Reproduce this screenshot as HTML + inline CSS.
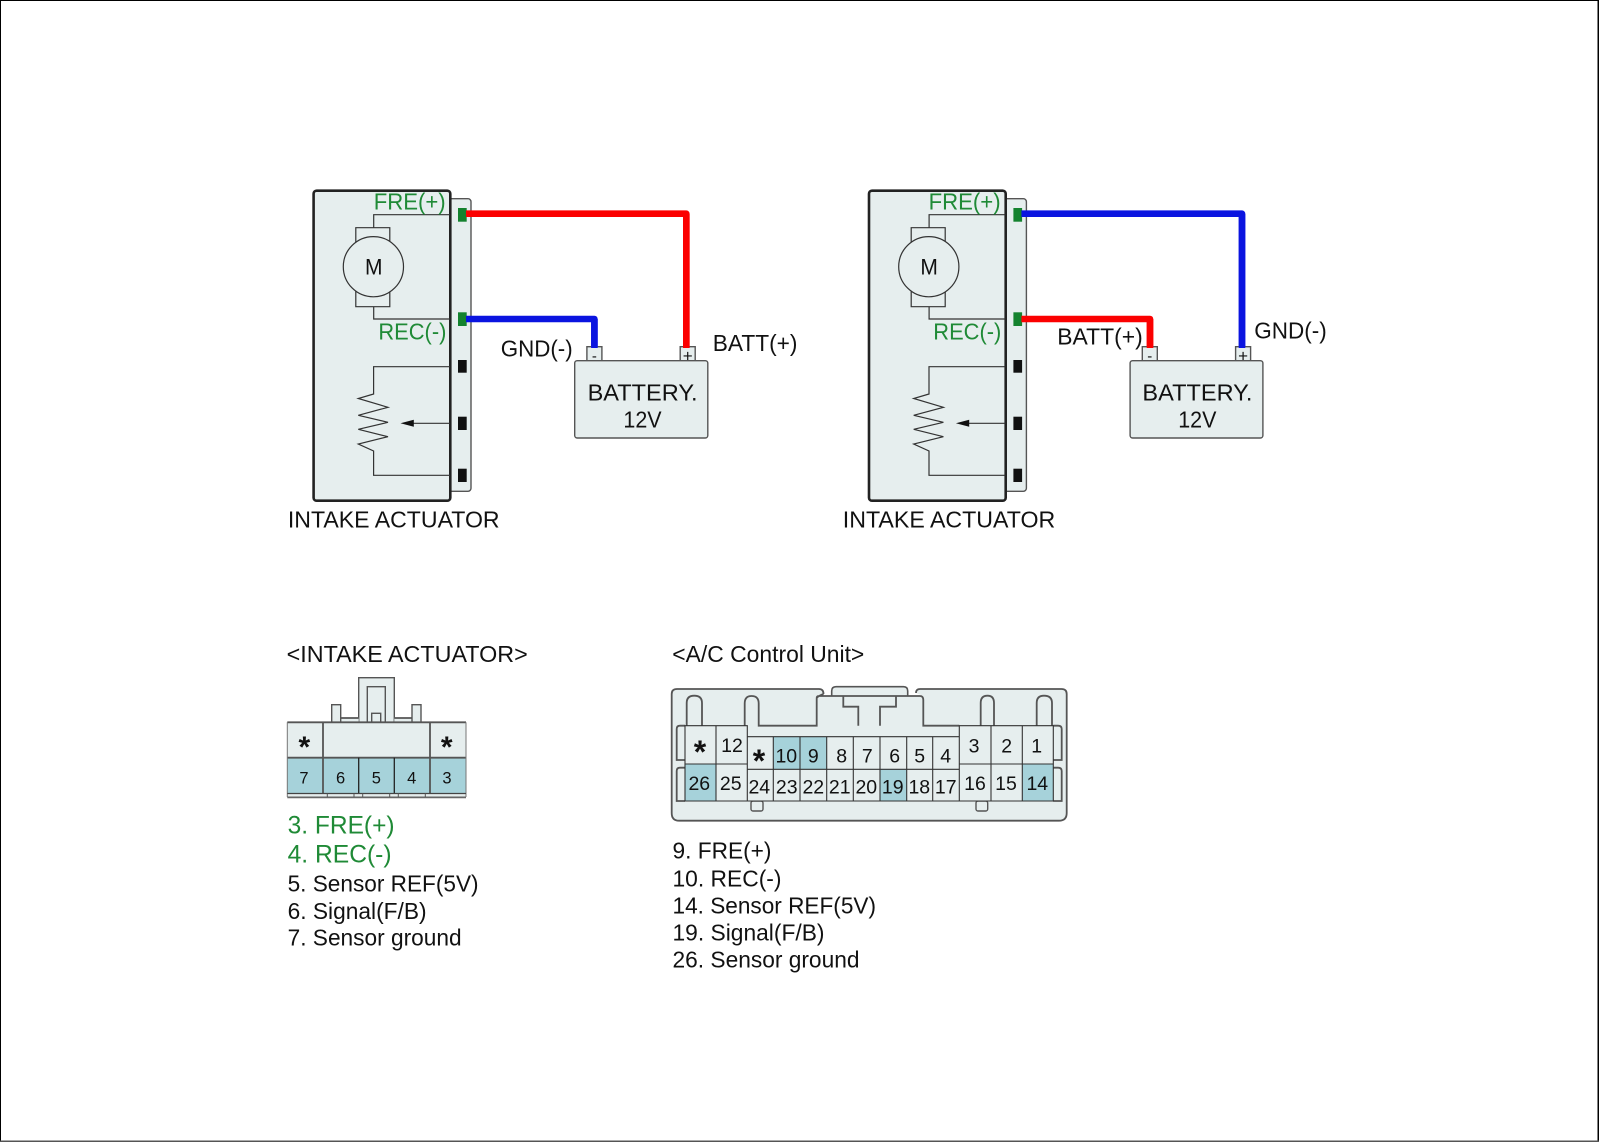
<!DOCTYPE html>
<html><head><meta charset="utf-8"><style>
html,body{margin:0;padding:0;background:#fff}
svg{display:block}
text{font-family:"Liberation Sans",sans-serif;fill:#111}
.g{fill:#1f8a36}
.f{fill:#e6eeee}
.t{fill:#a6d2da}
.l{fill:none;stroke:#333;stroke-width:1.2}
.o{fill:#e6eeee;stroke:#555;stroke-width:1.4}
.c{fill:none;stroke:#555;stroke-width:1.8}
</style></head><body>
<svg width="1600" height="1143" viewBox="0 0 1600 1143" xmlns="http://www.w3.org/2000/svg">
<rect width="1600" height="1143" fill="#fff"/>
<rect x="0" y="0" width="1" height="1142" fill="#000"/>
<rect x="0" y="0" width="1599" height="1" fill="#000"/>
<rect x="1597.5" y="0" width="1.5" height="1142" fill="#000"/>
<rect x="0" y="1140.5" width="1599" height="1.5" fill="#555"/>

<!-- Left actuator -->
<g>
<rect class="o" x="445" y="198.7" width="26" height="292.6" rx="3"/>
<rect x="313.6" y="190.7" width="136.7" height="310" rx="3" fill="#e6eeee" stroke="#222" stroke-width="2.6"/>
<path class="l" d="M450 214.7H373.7V227.7M355.8 227.7H389.8V306.7H355.8ZM373.7 306.7V319H450"/>
<circle cx="373.4" cy="266.7" r="30.1" fill="#e6eeee" stroke="#333" stroke-width="1.2"/>
<path class="l" d="M450 366.7H373.6V394L358.3 398.5L388 407.3L358.3 415.3L388 422.3L358.3 429.3L388 436.7L358.3 444L373.6 451V475.3H450"/>
<path class="l" d="M450 423.3H412"/>
<path d="M400.5 423.3L413.8 419.8V426.8Z" fill="#111"/>
<rect x="458" y="208" width="8.7" height="13.7" fill="#14822e"/>
<rect x="458" y="312.3" width="8.7" height="13.7" fill="#14822e"/>
<rect x="458" y="360" width="8.7" height="12.7" fill="#111"/>
<rect x="458" y="416.7" width="8.7" height="13.3" fill="#111"/>
<rect x="458" y="468.7" width="8.7" height="13.3" fill="#111"/>
<text x="365" y="274.7" font-size="22.5" textLength="17.5" lengthAdjust="spacingAndGlyphs">M</text>
<text class="g" x="373.7" y="209.3" font-size="23" textLength="72" lengthAdjust="spacingAndGlyphs">FRE(+)</text>
<text class="g" x="378.4" y="339.3" font-size="23" textLength="68" lengthAdjust="spacingAndGlyphs">REC(-)</text>
<path d="M466 213.7H686.3V346.7" fill="none" stroke="#fb0000" stroke-width="6.6" stroke-linejoin="round"/>
<path d="M466 319H594.4V347.5" fill="none" stroke="#0a14e0" stroke-width="6.6" stroke-linejoin="round"/>
<rect class="o" x="586.9" y="346.7" width="15" height="14"/>
<rect class="o" x="680.2" y="346.7" width="15" height="14"/>
<path d="M594.4 319V348" fill="none" stroke="#0a14e0" stroke-width="6.6"/>
<path d="M686.3 213.7V348" fill="none" stroke="#fb0000" stroke-width="6.6"/>
<rect class="o" x="574.7" y="360.7" width="133.1" height="77.3" rx="2.5"/>
<text x="594.4" y="361" font-size="15" text-anchor="middle">-</text>
<text x="687.7" y="361.5" font-size="17" text-anchor="middle">+</text>
<text x="500.7" y="356.7" font-size="23" textLength="72" lengthAdjust="spacingAndGlyphs">GND(-)</text>
<text x="712.8" y="351" font-size="23" textLength="84.7" lengthAdjust="spacingAndGlyphs">BATT(+)</text>
<text x="587.6" y="400.7" font-size="23" textLength="110" lengthAdjust="spacingAndGlyphs">BATTERY.</text>
<text x="623.4" y="427.7" font-size="23" textLength="38.2" lengthAdjust="spacingAndGlyphs">12V</text>
<text x="287.9" y="527.3" font-size="23" textLength="211.7" lengthAdjust="spacingAndGlyphs">INTAKE ACTUATOR</text>
</g>

<!-- Right actuator -->
<g transform="translate(555.4 0)">
<rect class="o" x="445" y="198.7" width="26" height="292.6" rx="3"/>
<rect x="313.6" y="190.7" width="136.7" height="310" rx="3" fill="#e6eeee" stroke="#222" stroke-width="2.6"/>
<path class="l" d="M450 214.7H373.7V227.7M355.8 227.7H389.8V306.7H355.8ZM373.7 306.7V319H450"/>
<circle cx="373.4" cy="266.7" r="30.1" fill="#e6eeee" stroke="#333" stroke-width="1.2"/>
<path class="l" d="M450 366.7H373.6V394L358.3 398.5L388 407.3L358.3 415.3L388 422.3L358.3 429.3L388 436.7L358.3 444L373.6 451V475.3H450"/>
<path class="l" d="M450 423.3H412"/>
<path d="M400.5 423.3L413.8 419.8V426.8Z" fill="#111"/>
<rect x="458" y="208" width="8.7" height="13.7" fill="#14822e"/>
<rect x="458" y="312.3" width="8.7" height="13.7" fill="#14822e"/>
<rect x="458" y="360" width="8.7" height="12.7" fill="#111"/>
<rect x="458" y="416.7" width="8.7" height="13.3" fill="#111"/>
<rect x="458" y="468.7" width="8.7" height="13.3" fill="#111"/>
<text x="365" y="274.7" font-size="22.5" textLength="17.5" lengthAdjust="spacingAndGlyphs">M</text>
<text class="g" x="373.2" y="209.3" font-size="23" textLength="72" lengthAdjust="spacingAndGlyphs">FRE(+)</text>
<text class="g" x="377.9" y="339.3" font-size="23" textLength="68" lengthAdjust="spacingAndGlyphs">REC(-)</text>
<path d="M466 213.7H686.6V346.7" fill="none" stroke="#0a14e0" stroke-width="6.6" stroke-linejoin="round"/>
<path d="M466 319H594.6V347.5" fill="none" stroke="#fb0000" stroke-width="6.6" stroke-linejoin="round"/>
<rect class="o" x="586.9" y="346.7" width="15" height="14"/>
<rect class="o" x="680.2" y="346.7" width="15" height="14"/>
<path d="M594.6 319V348" fill="none" stroke="#fb0000" stroke-width="6.6"/>
<path d="M686.6 213.7V348" fill="none" stroke="#0a14e0" stroke-width="6.6"/>
<rect class="o" x="574.7" y="360.7" width="132.8" height="77.3" rx="2.5"/>
<text x="594.4" y="361" font-size="15" text-anchor="middle">-</text>
<text x="687.7" y="361.5" font-size="17" text-anchor="middle">+</text>
<text x="501.9" y="344.3" font-size="23" textLength="85.4" lengthAdjust="spacingAndGlyphs">BATT(+)</text>
<text x="698.9" y="338.3" font-size="23" textLength="72.5" lengthAdjust="spacingAndGlyphs">GND(-)</text>
<text x="587" y="400.7" font-size="23" textLength="110" lengthAdjust="spacingAndGlyphs">BATTERY.</text>
<text x="622.8" y="427.7" font-size="23" textLength="38.2" lengthAdjust="spacingAndGlyphs">12V</text>
<text x="287.4" y="527.3" font-size="23" textLength="212.5" lengthAdjust="spacingAndGlyphs">INTAKE ACTUATOR</text>
</g>

<!-- Intake actuator connector -->
<text x="286.7" y="662" font-size="23" textLength="241" lengthAdjust="spacingAndGlyphs">&lt;INTAKE ACTUATOR&gt;</text>
<rect class="o" x="358.7" y="677.7" width="35.6" height="44.6"/>
<rect class="o" x="367.3" y="686.7" width="18" height="35.6"/>
<rect class="o" x="371.7" y="713.3" width="9" height="9"/>
<rect class="f" x="340.7" y="717.7" width="18" height="4.6"/>
<rect class="f" x="394.3" y="717.7" width="18" height="4.6"/>
<path d="M340.7 718H358.7M394.3 718H412" stroke="#555" stroke-width="1.8" fill="none"/>
<rect class="o" x="331.7" y="704.7" width="9" height="17.6"/>
<rect class="o" x="412" y="704.7" width="9" height="17.6"/>
<rect class="f" x="287.3" y="722.3" width="178.7" height="35.4"/>
<rect class="t" x="287.3" y="757.7" width="178.7" height="35.6"/>
<rect class="f" x="287.3" y="793.3" width="178.7" height="4.4"/>
<path class="c" d="M287.3 722.3H466M323 722.3V793.3M430 722.3V793.3M287.3 757.7H466"/>
<path d="M287.3 722.3V797M466 722.3V797" stroke="#777" stroke-width="1" fill="none"/>
<path d="M358.7 757.7V793.3M394.3 757.7V793.3" stroke="#222" stroke-width="1.3" fill="none"/>
<path d="M287.3 793.5H466" stroke="#444" stroke-width="1.2"/>
<path d="M287.3 797.4H466" stroke="#666" stroke-width="1.8"/>
<path d="M327.3 793.5V797M354 793.5V797M362.7 793.5V797M389.7 793.5V797M398.3 793.5V797M425.3 793.5V797" stroke="#555" stroke-width="1"/>
<g font-size="30" font-weight="bold" text-anchor="middle">
<text x="304.3" y="757">*</text>
<text x="446.7" y="757">*</text>
</g>
<g font-size="16.5" text-anchor="middle">
<text x="304" y="783.7">7</text>
<text x="340.6" y="783.7">6</text>
<text x="376.3" y="783.7">5</text>
<text x="411.7" y="783.7">4</text>
<text x="447" y="783.7">3</text>
</g>

<!-- Left list -->
<text class="g" x="287.6" y="833.3" font-size="25" textLength="107" lengthAdjust="spacingAndGlyphs">3. FRE(+)</text>
<text class="g" x="287.6" y="862.7" font-size="25" textLength="104" lengthAdjust="spacingAndGlyphs">4. REC(-)</text>
<text x="287.6" y="891.7" font-size="23" textLength="191" lengthAdjust="spacingAndGlyphs">5. Sensor REF(5V)</text>
<text x="287.6" y="919" font-size="23" textLength="139" lengthAdjust="spacingAndGlyphs">6. Signal(F/B)</text>
<text x="287.6" y="945.7" font-size="23" textLength="174" lengthAdjust="spacingAndGlyphs">7. Sensor ground</text>

<!-- A/C connector -->
<text x="672.3" y="662" font-size="23" textLength="192" lengthAdjust="spacingAndGlyphs">&lt;A/C Control Unit&gt;</text>
<path class="o" d="M831.7 697V691Q831.7 686.7 836 686.7H903.5Q907.7 686.7 907.7 691V697Z" style="stroke-width:1.6"/>
<path class="f" d="M677 689H820Q823.5 689 823.5 693L816.7 696H923.3L916 693Q916 689 920 689H1062Q1066.7 689 1066.7 694V815Q1066.7 820.7 1061 820.7H678Q671.7 820.7 671.7 815V694Q671.7 689 677 689Z"/>
<path class="c" d="M823.5 694Q823.5 689 819 689H677Q671.7 689 671.7 694V813Q671.7 820.7 679 820.7H1059Q1066.7 820.7 1066.7 813V694Q1066.7 689 1061.5 689H920Q916 689 916 693"/>
<path class="c" d="M823.5 694Q818 696 816.7 698M816.7 698Q816.7 696 819 696H920Q923.3 696 923.3 700V725.7H959.3M816.7 698V725.7H758.7V703.5Q758.7 696 751.5 696Q744.7 696 744.7 703.5V725.7M843.3 696V706.7H858.3V725.7M896 696V706.7H880V725.7"/>
<path class="c" d="M686.7 725.7V703Q686.7 695.7 694.2 695.7Q702 695.7 702 703V725.7M980.7 725.7V703Q980.7 695.7 987.5 695.7Q994 695.7 994 703V725.7M1036.7 725.7V703Q1036.7 695.7 1044 695.7Q1052 695.7 1052 703V725.7"/>
<path class="c" d="M685 725.7H680Q676.7 725.7 676.7 729V760H685M685 767.7H680Q676.7 767.7 676.7 771V801H685M1053.3 725.7H1058Q1061.7 725.7 1061.7 729V760H1053.3M1053.3 767.7H1058Q1061.7 767.7 1061.7 771V801H1053.3"/>
<rect class="o" x="751" y="801" width="12" height="10" rx="2"/>
<rect class="o" x="976" y="801" width="11.7" height="10" rx="2"/>
<rect class="f" x="685" y="725.7" width="62.3" height="75.3"/>
<rect class="f" x="747.3" y="736.7" width="212" height="64.3"/>
<rect class="f" x="959.3" y="725.7" width="94" height="75.3"/>
<rect class="t" x="685" y="764" width="31" height="37"/>
<rect class="t" x="773.3" y="736.7" width="53.4" height="32.6"/>
<rect class="t" x="880" y="769.3" width="26.7" height="31.7"/>
<rect class="t" x="1022.3" y="764" width="31" height="37"/>
<path d="M685 725.7H747.3V736.7H959.3V725.7H1053.3V801H685ZM685 764H747.3M959.3 764H1053.3M716 725.7V801M991 725.7V801M1022.3 725.7V801M747.3 736.7V801M959.3 736.7V801M747.3 769.3H959.3M773.3 736.7V801M800 736.7V801M826.7 736.7V801M853.3 736.7V801M880 736.7V801M906.7 736.7V801M932.7 736.7V801" fill="none" stroke="#333" stroke-width="1.1"/>
<g font-size="32" font-weight="bold" text-anchor="middle">
<text x="700" y="763">*</text>
<text x="759" y="772">*</text>
</g>
<g font-size="19.5" text-anchor="middle">
<text x="732" y="752">12</text>
<text x="786.3" y="762.3">10</text>
<text x="813.3" y="762.3">9</text>
<text x="841.7" y="762.3">8</text>
<text x="867.3" y="762.3">7</text>
<text x="894.7" y="762.3">6</text>
<text x="919.7" y="762.3">5</text>
<text x="945.7" y="762.3">4</text>
<text x="974" y="752.7">3</text>
<text x="1006.7" y="752.7">2</text>
<text x="1036.7" y="752.7">1</text>
<text x="699.3" y="790">26</text>
<text x="730.7" y="790">25</text>
<text x="759.3" y="793.7">24</text>
<text x="786.7" y="793.7">23</text>
<text x="813.3" y="793.7">22</text>
<text x="839.7" y="793.7">21</text>
<text x="866.3" y="793.7">20</text>
<text x="892.7" y="793.7">19</text>
<text x="919.3" y="793.7">18</text>
<text x="945.7" y="793.7">17</text>
<text x="975" y="790">16</text>
<text x="1006" y="790">15</text>
<text x="1037.3" y="790">14</text>
</g>

<!-- Right list -->
<text x="672.5" y="858.7" font-size="23" textLength="99" lengthAdjust="spacingAndGlyphs">9. FRE(+)</text>
<text x="672.5" y="886.7" font-size="23" textLength="109" lengthAdjust="spacingAndGlyphs">10. REC(-)</text>
<text x="672.5" y="913.3" font-size="23" textLength="203.5" lengthAdjust="spacingAndGlyphs">14. Sensor REF(5V)</text>
<text x="672.5" y="940.7" font-size="23" textLength="152" lengthAdjust="spacingAndGlyphs">19. Signal(F/B)</text>
<text x="672.5" y="967.7" font-size="23" textLength="187" lengthAdjust="spacingAndGlyphs">26. Sensor ground</text>
</svg>
</body></html>
